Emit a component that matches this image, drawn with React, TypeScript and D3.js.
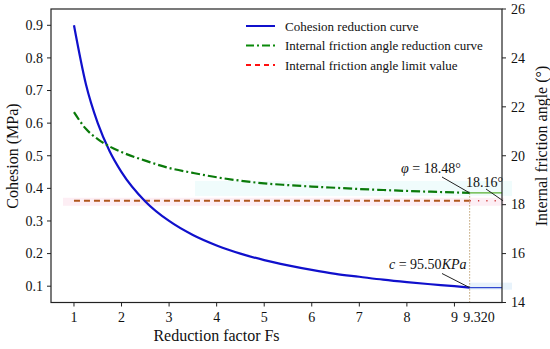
import React from "react";
import * as d3 from "d3";

const fsValues = [1, 1.25, 1.5, 1.75, 2, 2.5, 3, 3.5, 4, 4.5, 5, 5.5, 6, 6.5, 7, 7.5, 8, 8.5, 9, 9.32];
const cohesion = [0.9, 0.72, 0.6, 0.514, 0.45, 0.36, 0.3, 0.257, 0.225, 0.2, 0.18, 0.164, 0.15, 0.138, 0.129, 0.12, 0.1125, 0.106, 0.1, 0.0955];
const friction = [21.78, 21.1, 20.68, 20.38, 20.15, 19.8, 19.5, 19.3, 19.12, 18.98, 18.87, 18.8, 18.74, 18.69, 18.64, 18.6, 18.56, 18.53, 18.5, 18.48];
const limitAngle = 18.16;
const finalFs = 9.32;
const finalC = 0.0955;
const finalPhi = 18.48;
const xTicks = [1, 2, 3, 4, 5, 6, 7, 8, 9];
const yLeftTicks = [0.1, 0.2, 0.3, 0.4, 0.5, 0.6, 0.7, 0.8, 0.9];
const yRightTicks = [14, 16, 18, 20, 22, 24, 26];
const legendLabels = ["Cohesion reduction curve", "Internal friction angle reduction curve", "Internal friction angle limit value"];

const L = 51, R = 502, T = 9, B = 302.5;
const font = "Liberation Serif, DejaVu Serif, serif";

export default function App() {
  const x = d3.scaleLinear().domain([0.517, 10]).range([L, R]);
  const yL = d3.scaleLinear().domain([0.05, 0.95]).range([B, T]);
  const yR = d3.scaleLinear().domain([14, 26]).range([B, T]);

  const cLine = d3.line<number>().x((_, i) => x(fsValues[i])).y((d) => yL(d)).curve(d3.curveMonotoneX)(cohesion) || "";
  const pLine = d3.line<number>().x((_, i) => x(fsValues[i])).y((d) => yR(d)).curve(d3.curveMonotoneX)(friction) || "";

  const xf = x(finalFs);
  const yLim = yR(limitAngle);
  const yPhi = yR(finalPhi);
  const yC = yL(finalC);

  return (
    <svg width={550} height={349} style={{ position: "absolute", left: 0, top: 0, fontFamily: font }}>
      <rect width={550} height={349} fill="#fff" />
      {/* highlight bands */}
      <rect x={63} y={yLim - 3} width={R - 63 + 2} height={8} fill="#fdeef4" />
      <rect x={195} y={yPhi - 12} width={512 - 195} height={15} fill="#f0fcfc" />
      <rect x={xf} y={yC - 5} width={512 - xf} height={7} fill="#e8f3fb" />

      {/* limit line */}
      <line x1={x(1)} x2={xf} y1={yLim} y2={yLim} stroke="#b0561c" strokeWidth={2} strokeDasharray="6,4" />
      <line x1={xf} x2={R} y1={yLim} y2={yLim} stroke="#d04040" strokeWidth={1.3} strokeDasharray="1.3,7" />

      {/* vertical dotted */}
      <line x1={xf} x2={xf} y1={B} y2={yPhi} stroke="#b08a50" strokeWidth={1} strokeDasharray="1.2,1.8" />

      {/* curves */}
      <path d={cLine} fill="none" stroke="#1010cc" strokeWidth={2.2} />
      <line x1={xf} x2={R} y1={yC} y2={yC} stroke="#3048d0" strokeWidth={1.2} />
      <path d={pLine} fill="none" stroke="#0a7a0a" strokeWidth={2.2} strokeDasharray="9,3,2,3" />
      <line x1={xf} x2={R} y1={yPhi} y2={yPhi} stroke="#58b030" strokeWidth={1.2} />

      {/* annotations */}
      <line x1={442} y1={177} x2={xf} y2={yPhi} stroke="#222" strokeWidth={1} />
      <text x={401} y={173} fontSize={14} fill="#111">
        <tspan fontStyle="italic">φ</tspan> = 18.48°
      </text>
      <line x1={486} y1={189} x2={R + 1} y2={yLim} stroke="#222" strokeWidth={1} />
      <text x={466} y={187} fontSize={14} fill="#111">18.16°</text>
      <line x1={442} y1={273.5} x2={xf} y2={yC} stroke="#222" strokeWidth={1} />
      <text x={389} y={269} fontSize={14} fill="#111">
        <tspan fontStyle="italic">c</tspan> = 95.50<tspan fontStyle="italic">KPa</tspan>
      </text>

      {/* frame */}
      <rect x={L} y={T} width={R - L} height={B - T} fill="none" stroke="#222" strokeWidth={1.2} />

      {/* x ticks */}
      {xTicks.map((t) => (
        <g key={"x" + t}>
          <line x1={x(t)} x2={x(t)} y1={B} y2={B + 4} stroke="#222" />
          <text x={x(t)} y={322} fontSize={14} textAnchor="middle" fill="#111">{t}</text>
        </g>
      ))}
      <text x={479} y={322} fontSize={14} textAnchor="middle" fill="#111">9.320</text>
      <text x={216.5} y={341} fontSize={16} textAnchor="middle" fill="#111">Reduction factor Fs</text>

      {/* left ticks */}
      {yLeftTicks.map((t) => (
        <g key={"l" + t}>
          <line x1={L - 4} x2={L} y1={yL(t)} y2={yL(t)} stroke="#222" />
          <text x={43} y={yL(t) + 4.8} fontSize={14} textAnchor="end" fill="#111">{t.toFixed(1)}</text>
        </g>
      ))}
      <text transform={`translate(18,156) rotate(-90)`} fontSize={16} textAnchor="middle" fill="#111">Cohesion (MPa)</text>

      {/* right ticks */}
      {yRightTicks.map((t) => (
        <g key={"r" + t}>
          <line x1={R} x2={R + 4} y1={yR(t)} y2={yR(t)} stroke="#222" />
          <text x={511} y={yR(t) + 4.8} fontSize={14} textAnchor="start" fill="#111">{t}</text>
        </g>
      ))}
      <text transform={`translate(547,146) rotate(-90)`} fontSize={16} textAnchor="middle" fill="#111">Internal friction angle (°)</text>

      {/* legend */}
      {legendLabels.map((lab, i) => {
        const yy = 26 + i * 19.5;
        const stroke = i === 0 ? "#1010cc" : i === 1 ? "#0a8a0a" : "#ff1010";
        const dash = i === 0 ? undefined : i === 1 ? "8,3,2,3" : "5,4";
        return (
          <g key={lab}>
            <line x1={246} x2={275} y1={yy} y2={yy} stroke={stroke} strokeWidth={2} strokeDasharray={dash} />
            <text x={285} y={yy + 4.5} fontSize={13} fill="#111">{lab}</text>
          </g>
        );
      })}
    </svg>
  );
}
